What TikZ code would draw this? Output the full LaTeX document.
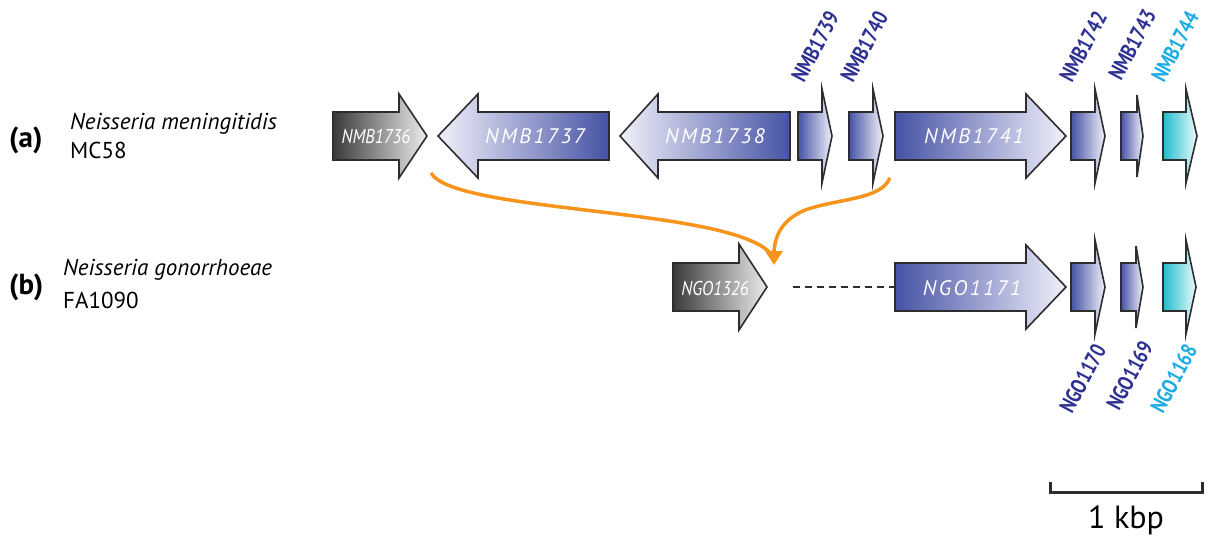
\documentclass[tikz,border=0pt]{standalone}
\usepackage{fontspec}
\setmainfont{PT Sans}
\usetikzlibrary{arrows.meta}
\definecolor{gbd}{RGB}{70,82,165}
\definecolor{gbl}{RGB}{240,241,250}
\definecolor{ggd}{RGB}{58,58,58}
\definecolor{ggl}{RGB}{236,236,236}
\definecolor{gcd}{RGB}{30,188,204}
\definecolor{gcl}{RGB}{236,250,252}
\definecolor{lblblue}{RGB}{46,49,146}
\definecolor{lblcyan}{RGB}{27,172,228}
\definecolor{orng}{RGB}{247,148,29}
\definecolor{outl}{RGB}{45,45,45}
\newcommand{\rgene}[7]{\path[gene,#1] (#2,#5-#6) -- (#3,#5-#6) -- (#3,#5-#7) -- (#4,#5) -- (#3,#5+#7) -- (#3,#5+#6) -- (#2,#5+#6) -- cycle;}
\newcommand{\lgene}[7]{\path[gene,#1] (#2,#5) -- (#3,#5-#7) -- (#3,#5-#6) -- (#4,#5-#6) -- (#4,#5+#6) -- (#3,#5+#6) -- (#3,#5+#7) -- cycle;}
\tikzset{
  gene/.style={draw=outl, line width=1.6pt, line join=miter},
  blueR/.style={left color=gbd, right color=gbl},
  blueL/.style={left color=gbl, right color=gbd},
  grayR/.style={left color=ggd, right color=ggl},
  cyanR/.style={left color=gcd, right color=gcl},
  intext/.style={text=white, inner sep=0, font=\fontsize{21}{21}\selectfont\itshape\addfontfeature{LetterSpace=12}},
  smalltext/.style={text=white, inner sep=0, font=\fontsize{20}{20}\selectfont\itshape},
  rotlbl/.style={anchor=base west, rotate=62, inner sep=0, text=lblblue, font=\fontsize{22}{22}\selectfont\bfseries},
  species/.style={anchor=base west, inner sep=0, font=\fontsize{23}{23}\selectfont},
  panel/.style={anchor=base west, inner sep=0, font=\fontsize{29}{29}\selectfont\bfseries},
  swap/.style={draw=orng, line width=3.5pt},
}
\begin{document}
\begin{tikzpicture}[x=1pt,y=-1pt]
\useasboundingbox[fill=white] (0,0) rectangle (1218,536);

% left labels
\node[panel] (pa) at (9,147) {(a)};
\node[species] (sa1) at (70,129) {\itshape Neisseria meningitidis};
\node[species] (sa2) at (70,158) {MC58};
\node[panel] (pb) at (9,294) {(b)};
\node[species] (sb1) at (63,275) {\itshape Neisseria gonorrhoeae};
\node[species] (sb2) at (63,308) {FA1090};

% row (a)
\rgene{grayR}{333}{399}{427}{136}{24}{42}
\lgene{blueL}{438}{478}{609}{136}{24}{42}
\lgene{blueL}{620}{658}{790}{136}{24}{42}
\rgene{blueR}{798}{822}{832}{136}{24}{47}
\rgene{blueR}{849}{873}{883}{136}{24}{47}
\rgene{blueR}{895}{1026}{1066}{136}{24}{42}
\rgene{blueR}{1071}{1095}{1105}{136}{24}{47}
\rgene{blueR}{1121}{1137}{1143}{136}{24}{41}
\rgene{cyanR}{1163}{1186}{1197}{136}{24}{47}

\node[smalltext] (g1736) at (376,136) {\scalebox{0.85}[1]{NMB1736}};
\node[intext] (g1737) at (535,136) {NMB1737};
\node[intext] (g1738) at (715,136) {NMB1738};
\node[intext] (g1741) at (974,136) {NMB1741};

\node[rotlbl] (l1739) at (804,84) {\scalebox{0.8}[1]{NMB1739}};
\node[rotlbl] (l1740) at (853,84) {\scalebox{0.8}[1]{NMB1740}};
\node[rotlbl] (l1742) at (1072,84) {\scalebox{0.8}[1]{NMB1742}};
\node[rotlbl] (l1743) at (1121,82) {\scalebox{0.8}[1]{NMB1743}};
\node[rotlbl, text=lblcyan] (l1744) at (1164,84) {\scalebox{0.8}[1]{NMB1744}};

% row (b)
\rgene{grayR}{673}{739}{767}{287}{24}{43}
\rgene{blueR}{895}{1026}{1066}{287}{24}{42}
\rgene{blueR}{1071}{1095}{1105}{287}{24}{47}
\rgene{blueR}{1121}{1136}{1143}{287}{24}{41}
\rgene{cyanR}{1163}{1186}{1196}{287}{24}{47}

\node[smalltext] (g1326) at (715,288) {\scalebox{0.85}[1]{NGO1326}};
\node[intext] (g1171) at (972,288) {NGO1171};

\node[rotlbl] (l1170) at (1072,415) {\scalebox{0.8}[1]{NGO1170}};
\node[rotlbl] (l1169) at (1119,412) {\scalebox{0.8}[1]{NGO1169}};
\node[rotlbl, text=lblcyan] (l1168) at (1163,415) {\scalebox{0.8}[1]{NGO1168}};

% dashed gap
\coordinate (d1) at (793,287);
\coordinate (d2) at (895,287);
\draw[outl, line width=1.8pt, dash pattern=on 7pt off 5pt] (d1) -- (d2);

% orange swap arrows
\coordinate (c1) at (431,173);
\coordinate (c2) at (890,178);
\coordinate (mg) at (774,265);
\draw[swap] (c1) .. controls (455,214) and (735,207) .. (772,255);
\draw[swap] (c2) .. controls (880,200) and (840,198) .. (805,210) .. controls (782,220) and (775,235) .. (774,252);
\draw[swap, -{Triangle[width=17pt,length=14pt]}] (774,250) -- (mg);

% scale bar
\coordinate (s1) at (1050,482);
\coordinate (s2) at (1202,482);
\draw[outl, line width=3pt, line cap=butt] (s1) -- ++(0,10) -- ([yshift=-10pt]s2) -- (s2);
\node[inner sep=0, font=\fontsize{32}{32}\selectfont] (kb) at (1126,520) {1 kbp};
\end{tikzpicture}
\end{document}
